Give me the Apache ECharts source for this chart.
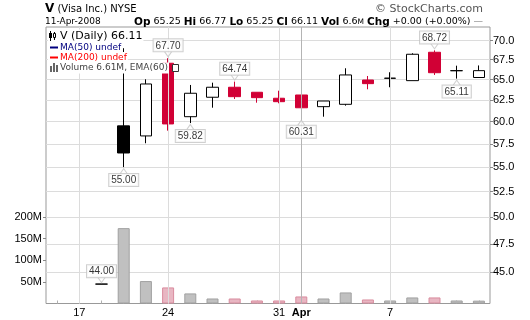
<!DOCTYPE html>
<html><head><meta charset="utf-8">
<script src="https://cdn.jsdelivr.net/npm/echarts@6/dist/echarts.min.js"></script>
<style>html,body{margin:0;padding:0;background:#fff}#c{width:530px;height:320px}</style>
</head><body><div id="c"></div>
<script>
// ---- data ----
const dates = ['2008-03-14','2008-03-17','2008-03-18','2008-03-19','2008-03-20','2008-03-24','2008-03-25','2008-03-26','2008-03-27','2008-03-28','2008-03-31','2008-04-01','2008-04-02','2008-04-03','2008-04-04','2008-04-07','2008-04-08','2008-04-09','2008-04-10','2008-04-11'];
const opens   = [null,null,44.00,59.50,58.37,67.05,60.55,62.84,64.05,63.44,62.72,63.11,61.72,62.00,64.94,65.15,64.86,68.47,66.10,65.25];
const highs   = [null,null,44.00,69.00,65.03,67.70,64.33,64.61,64.74,63.44,63.63,63.72,62.39,66.41,65.44,65.91,68.34,68.72,66.74,66.77];
const lows    = [null,null,44.00,55.00,57.56,58.96,59.82,61.60,62.63,62.19,62.12,60.31,60.55,61.84,63.80,64.05,64.86,65.57,65.11,65.25];
const closes  = [null,null,44.00,56.50,64.45,59.72,63.32,64.05,62.91,62.79,62.31,61.59,62.39,65.57,64.49,65.17,68.21,65.85,66.11,66.11];
const volumes = [null,null,null,174.4,51.9,37.2,23.3,11.6,11.6,7.0,7.0,16.3,11.6,25.6,9.3,7.0,14.0,14.0,7.0,6.61]; // millions
const priceTicks = [45, 47.5, 50, 52.5, 55, 57.5, 60, 62.5, 65, 67.5, 70];
const volumeTicks = [50, 100, 150, 200];
const weekDates = ['2008-03-17','2008-03-24','2008-03-31','2008-04-01','2008-04-07'];
const weekLabels = ['17','24','31','Apr','7'];
const monthStart = '2008-04-01';
const highNoteDates = ['2008-03-18','2008-03-24','2008-03-27','2008-04-09'];
const lowNoteDates = ['2008-03-19','2008-03-25','2008-04-01','2008-04-10'];

// ---- build ----
const AX = 'Liberation Sans, Arial, sans-serif';
const DV = 'DejaVu Sans, Verdana, sans-serif';
const RED = '#d10035', BLACK = '#000';
const n = dates.length, last = n - 1;
const isDown = i => i > 0 && closes[i-1] != null && closes[i] < closes[i-1];

const candleData = dates.map((d, i) => {
  if (opens[i] == null) return ['-','-','-','-'];
  const stroke = isDown(i) ? RED : BLACK;
  const fill = closes[i] > opens[i] ? '#fff' : stroke;
  return {value: [opens[i], closes[i], lows[i], highs[i]],
    itemStyle: {color: fill, color0: fill, borderColor: stroke, borderColor0: stroke, borderColorDoji: stroke, borderWidth: 1}};
});
const volData = dates.map((d, i) => {
  if (volumes[i] == null) return '-';
  return {value: volumes[i], itemStyle: isDown(i)
    ? {color: '#e8b6c2', borderColor: '#d98c9e', borderWidth: 1}
    : {color: '#c0c0c0', borderColor: '#a0a0a0', borderWidth: 1}};
});
const highNotes = highNoteDates.map(d => [d, highs[dates.indexOf(d)]]);
const lowNotes = lowNoteDates.map(d => [d, lows[dates.indexOf(d)]]);
const noteLabel = {show: true, formatter: p => p.value[1].toFixed(2), color: '#000', fontSize: 10, fontFamily: AX,
  backgroundColor: '#fff', borderColor: '#c4c4c4', borderWidth: 1, padding: [1, 2, 0, 2], distance: 0, lineHeight: 11};

const f2 = v => v.toFixed(2);
const chg = closes[last] - closes[last-1];
const chgPct = chg / closes[last-1] * 100;
const sgn = v => (v >= 0 ? '+' : '') + v.toFixed(2);

const chart = echarts.init(document.getElementById('c'), null, {renderer: 'canvas', width: 530, height: 320});
chart.setOption({
  animation: false,
  backgroundColor: '#fff',
  grid: {left: 46, right: 40, top: 27, bottom: 16.5, show: true, borderColor: '#999', borderWidth: 1, backgroundColor: 'transparent', containLabel: false, outerBoundsMode: 'none'},
  xAxis: {
    type: 'category', data: dates, boundaryGap: true,
    axisLine: {show: false},
    axisTick: {show: true, inside: true, length: 3, interval: 0, alignWithLabel: true, lineStyle: {color: '#b0b0b0'}},
    axisLabel: {
      interval: (i, v) => weekDates.includes(v),
      formatter: v => { const t = weekLabels[weekDates.indexOf(v)] || ''; return isNaN(+t) ? '{b|' + t + '}' : t; },
      rich: {b: {fontWeight: 'bold', fontSize: 11, fontFamily: AX, color: '#000'}},
      fontSize: 11, fontFamily: AX, color: '#000', margin: 4
    },
    splitLine: {show: false}
  },
  yAxis: [
    {
      type: 'log', logBase: 10, position: 'right', min: 42.40, max: 71.85,
      axisLine: {show: false},
      axisTick: {show: true, length: 3, customValues: priceTicks, lineStyle: {color: '#888'}},
      axisLabel: {customValues: priceTicks, formatter: v => (+v).toFixed(1), fontSize: 11, fontFamily: AX, color: '#000', margin: 3},
      splitLine: {show: true, lineStyle: {color: '#dcdcdc', width: 1}},
      minorTick: {show: false}, minorSplitLine: {show: false}
    },
    {
      type: 'value', position: 'left', min: 0, max: 640,
      axisLine: {show: false},
      axisTick: {show: true, length: 3, customValues: volumeTicks, lineStyle: {color: '#888'}},
      axisLabel: {customValues: volumeTicks, formatter: v => v + 'M', fontSize: 11, fontFamily: AX, color: '#000', margin: 4},
      splitLine: {show: false}
    }
  ],
  series: [
    {
      type: 'line', yAxisIndex: 1, data: dates.map(() => '-'), z: 1, silent: true, symbol: 'none',
      markLine: {silent: true, symbol: ['none', 'none'], label: {show: false}, animation: false,
        data: weekDates.map(d => ({xAxis: d, lineStyle: {color: d === monthStart ? '#b4b4b4' : '#dcdcdc', width: 1, type: 'solid'}}))}
    },
    {type: 'bar', yAxisIndex: 1, data: volData, barWidth: 12, z: 2, silent: true},
    {type: 'candlestick', yAxisIndex: 0, data: candleData, barWidth: 12, z: 3, silent: true},
    {type: 'scatter', yAxisIndex: 0, data: highNotes, symbol: 'path://M0,0L5,6L10,0', symbolSize: [7, 5], symbolOffset: [0, -4],
      itemStyle: {color: '#fff', borderColor: '#c4c4c4', borderWidth: 1}, label: Object.assign({}, noteLabel, {position: 'top'}), z: 6, silent: true},
    {type: 'scatter', yAxisIndex: 0, data: lowNotes, symbol: 'path://M0,6L5,0L10,6', symbolSize: [7, 5], symbolOffset: [0, 4],
      itemStyle: {color: '#fff', borderColor: '#c4c4c4', borderWidth: 1}, label: Object.assign({}, noteLabel, {position: 'bottom'}), z: 6, silent: true}
  ],
  graphic: [
    {type: 'text', z: 100, x: 45, y: 9, style: {text: '{v|V} (Visa Inc.) NYSE', font: '10px ' + DV, fill: '#000', align: 'left', textAlign: 'left', verticalAlign: 'middle', textVerticalAlign: 'middle',
      rich: {v: {font: 'bold 12px ' + DV, fill: '#000'}}}},
    {type: 'text', z: 100, x: 483, y: 9, style: {text: '\u00a9 StockCharts.com', font: '11px ' + DV, fill: '#555', align: 'right', textAlign: 'right', verticalAlign: 'middle', textVerticalAlign: 'middle'}},
    {type: 'text', z: 100, x: 45, y: 22, style: {text: '11-Apr-2008', font: '9px ' + DV, fill: '#000', align: 'left', textAlign: 'left', verticalAlign: 'middle', textVerticalAlign: 'middle'}},
    {type: 'text', z: 100, x: 483, y: 22, style: {
      text: '{b|Op} ' + f2(opens[last]) + ' {b|Hi} ' + f2(highs[last]) + ' {b|Lo} ' + f2(lows[last]) + ' {b|Cl} ' + f2(closes[last]) +
            ' {b|Vol} ' + volumes[last].toFixed(1) + '{s|M} {b|Chg} ' + sgn(chg) + ' (' + sgn(chgPct) + '%) {g|\u2014}',
      font: '9.5px ' + DV, fill: '#000', align: 'right', textAlign: 'right', verticalAlign: 'middle', textVerticalAlign: 'middle',
      rich: {b: {font: 'bold 10.5px ' + DV, fill: '#000'}, s: {font: '7.5px ' + DV, fill: '#000'}, g: {font: '9.5px ' + DV, fill: '#888'}}}},
    // legend
    {type: 'text', z: 100, x: 59, y: 36, style: {text: 'V (Daily) ' + f2(closes[last]), font: '11px ' + DV, fill: '#000', backgroundColor: '#fff', padding: [1, 1], align: 'left', textAlign: 'left', verticalAlign: 'middle', textVerticalAlign: 'middle'}},
    {type: 'text', z: 100, x: 59, y: 47.5, style: {text: 'MA(50) undef', font: '9px ' + DV, fill: '#00007f', backgroundColor: '#fff', padding: [1, 1], align: 'left', textAlign: 'left', verticalAlign: 'middle', textVerticalAlign: 'middle'}},
    {type: 'text', z: 100, x: 59, y: 57.5, style: {text: 'MA(200) undef', font: '9px ' + DV, fill: '#ff0000', backgroundColor: '#fff', padding: [1, 1], align: 'left', textAlign: 'left', verticalAlign: 'middle', textVerticalAlign: 'middle'}},
    {type: 'text', z: 100, x: 59, y: 68, style: {text: 'Volume ' + volumes[last].toFixed(2) + 'M, EMA(60)', font: '9px ' + DV, fill: '#444', backgroundColor: '#fff', padding: [1, 1], align: 'left', textAlign: 'left', verticalAlign: 'middle', textVerticalAlign: 'middle'}},
    {type: 'rect', z: 100, shape: {x: 48, y: 29, width: 11, height: 45}, style: {fill: '#fff'}},
    // legend icons
    {type: 'line', z: 101, shape: {x1: 50.5, y1: 31, x2: 50.5, y2: 41}, style: {stroke: '#000', lineWidth: 1}},
    {type: 'rect', z: 101, shape: {x: 49, y: 33, width: 3, height: 5}, style: {fill: '#000'}},
    {type: 'line', z: 101, shape: {x1: 54.5, y1: 32, x2: 54.5, y2: 40}, style: {stroke: '#000', lineWidth: 1}},
    {type: 'rect', z: 101, shape: {x: 53.5, y: 33.5, width: 2, height: 4}, style: {fill: '#fff', stroke: '#000', lineWidth: 1}},
    {type: 'line', z: 101, shape: {x1: 50, y1: 47.5, x2: 58, y2: 47.5}, style: {stroke: '#00007f', lineWidth: 2}},
    {type: 'line', z: 101, shape: {x1: 50, y1: 57.5, x2: 58, y2: 57.5}, style: {stroke: '#ff0000', lineWidth: 2}},
    {type: 'rect', z: 101, shape: {x: 50, y: 66, width: 2, height: 6}, style: {fill: '#666'}},
    {type: 'rect', z: 101, shape: {x: 53, y: 63, width: 2, height: 9}, style: {fill: '#666'}},
    {type: 'rect', z: 101, shape: {x: 56, y: 65, width: 2, height: 7}, style: {fill: '#666'}},
    {type: 'rect', z: 101, shape: {x: 172.5, y: 64.5, width: 6, height: 7}, style: {fill: '#fff', stroke: '#333', lineWidth: 1}}
  ]
});
</script></body></html>
